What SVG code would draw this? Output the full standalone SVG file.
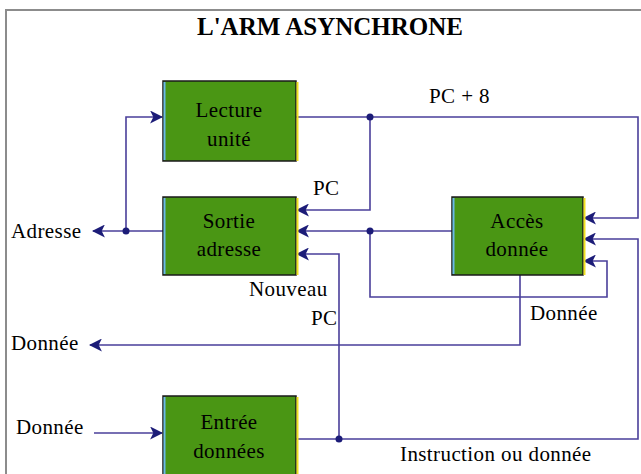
<svg xmlns="http://www.w3.org/2000/svg" width="641" height="474" viewBox="0 0 641 474">
<defs>
<style>
.bg{fill:#ffffff}
.frame{fill:none;stroke:#8c8c8c;stroke-width:2}
.box{fill:#4a9614;stroke:#1a1a1a;stroke-width:1.5}
.lb{stroke:#6ab8e8;stroke-width:2}
.yr{stroke:#f0e020;stroke-width:2}
.t{font-family:"Liberation Serif","Times New Roman",serif;font-size:21px;letter-spacing:0.4px;fill:#000}
.tc{text-anchor:middle}
.title{font-family:"Liberation Serif","Times New Roman",serif;font-size:25px;font-weight:bold;text-anchor:middle;fill:#000}
.w{fill:none;stroke:#4a3f9a;stroke-width:1.6}
.dot{fill:#1c1c78}
</style>
<marker id="ah" viewBox="0 0 12 12" refX="11" refY="6" markerWidth="13" markerHeight="13" markerUnits="userSpaceOnUse" orient="auto">
<path d="M0,0 L12,6 L0,12 L3,6 Z" fill="#1c1c78"/>
</marker>
</defs>
<rect class="bg" x="0" y="0" width="641" height="474"/>
<path class="frame" d="M6,480 L6,10 L645,10"/>
<text class="title" x="330" y="35">L'ARM ASYNCHRONE</text>

<g id="connectors">
<path class="w" d="M296,117 L638,117 L638,218 L584,218" marker-end="url(#ah)"/>
<path class="w" d="M370,117 L370,210 L297,210" marker-end="url(#ah)"/>
<path class="w" d="M452,231 L297,231" marker-end="url(#ah)"/>
<path class="w" d="M370,231 L370,297 L607,297 L607,261 L584,261" marker-end="url(#ah)"/>
<path class="w" d="M296,439 L638,439 L638,239 L584,239" marker-end="url(#ah)"/>
<path class="w" d="M339,439 L339,254 L297,254" marker-end="url(#ah)"/>
<path class="w" d="M163,231 L93,231" marker-end="url(#ah)"/>
<path class="w" d="M126,231 L126,117 L162,117" marker-end="url(#ah)"/>
<path class="w" d="M520,275 L520,345 L90,345" marker-end="url(#ah)"/>
<path class="w" d="M94,433 L162,433" marker-end="url(#ah)"/>
<circle class="dot" cx="370" cy="117" r="3.5"/>
<circle class="dot" cx="370" cy="231" r="3.5"/>
<circle class="dot" cx="126" cy="231" r="3.5"/>
<circle class="dot" cx="339" cy="439" r="3.5"/>
</g>

<g id="lecture">
<rect class="box" x="163" y="81" width="133" height="80"/>
<line class="lb" x1="164.5" y1="82" x2="164.5" y2="160"/>
<line class="yr" x1="297.5" y1="82" x2="297.5" y2="161"/>
<text class="t tc" x="229" y="117">Lecture</text>
<text class="t tc" x="229" y="146">unité</text>
</g>

<g id="sortie">
<rect class="box" x="163" y="197" width="133" height="78"/>
<line class="lb" x1="164.5" y1="198" x2="164.5" y2="274"/>
<line class="yr" x1="297.5" y1="198" x2="297.5" y2="275"/>
<text class="t tc" x="229" y="228">Sortie</text>
<text class="t tc" x="229" y="256">adresse</text>
</g>

<g id="acces">
<rect class="box" x="452" y="197" width="131" height="78"/>
<line class="lb" x1="453.5" y1="198" x2="453.5" y2="274"/>
<line class="yr" x1="584.5" y1="198" x2="584.5" y2="275"/>
<text class="t tc" x="517" y="228">Accès</text>
<text class="t tc" x="517" y="256">donnée</text>
</g>

<g id="entree">
<rect class="box" x="163" y="396" width="133" height="90"/>
<line class="lb" x1="164.5" y1="397" x2="164.5" y2="474"/>
<line class="yr" x1="297.5" y1="397" x2="297.5" y2="474"/>
<text class="t tc" x="229" y="429">Entrée</text>
<text class="t tc" x="229" y="458">données</text>
</g>

<g id="labels">
<text class="t" x="429" y="103">PC + 8</text>
<text class="t" x="313" y="195">PC</text>
<text class="t" x="11" y="238">Adresse</text>
<text class="t" x="249" y="296">Nouveau</text>
<text class="t" x="311" y="325">PC</text>
<text class="t" x="530" y="320">Donnée</text>
<text class="t" x="11" y="350">Donnée</text>
<text class="t" x="16" y="434">Donnée</text>
<text class="t" x="400" y="461">Instruction ou donnée</text>
</g>
</svg>
